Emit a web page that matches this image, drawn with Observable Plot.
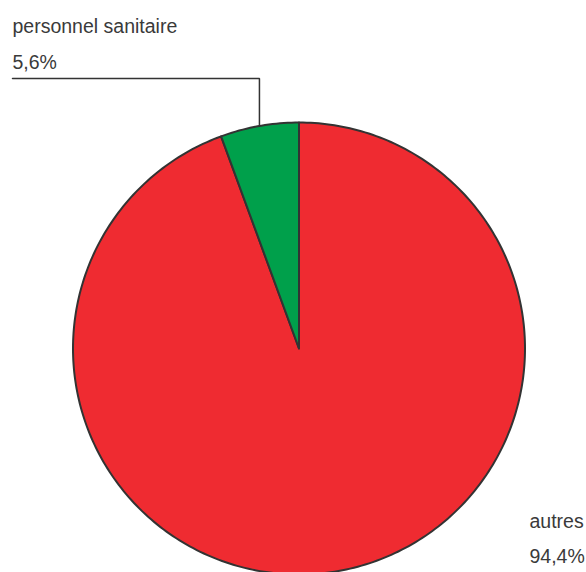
<!DOCTYPE html>
<html>
<head>
<meta charset="utf-8">
<script src="https://cdn.jsdelivr.net/npm/d3@7"></script>
<script src="https://cdn.jsdelivr.net/npm/@observablehq/plot@0.6"></script>
<style>
  html, body { margin: 0; padding: 0; background: #fff; }
  #chart svg { display: block; }
</style>
</head>
<body>
<div id="chart"></div>
<script>
// Shares of the total (percent)
const categories = ["autres", "personnel sanitaire"];
const values = [94.4, 5.6];
const valueLabels = ["94,4%", "5,6%"];
const colors = ["#ef2b31", "#00a04b"];

const W = 586, H = 572;
const R = 226;             // pie radius in pixels
const cx = 298.5, cy = 348; // pie centre in pixels

// Scales expressed in radius units, centre at (0, 0), y pointing up
const xDomain = [-cx / R, (W - cx) / R];
const yDomain = [-(H - cy) / R, cy / R];
const px = (x) => (x - cx) / R;
const py = (y) => (cy - y) / R;

// Slice geometry from d3.pie (0 at 12 o'clock, clockwise)
const arcs = d3.pie().sort(null).value((d) => d.value)(
  categories.map((c, i) => ({category: c, value: values[i], label: valueLabels[i]}))
);

const slicePoints = arcs.flatMap((a) => {
  const n = Math.max(2, Math.ceil((a.endAngle - a.startAngle) / (Math.PI / 180)));
  const pts = [{category: a.data.category, x: 0, y: 0}];
  for (let k = 0; k <= n; ++k) {
    const t = a.startAngle + (a.endAngle - a.startAngle) * (k / n);
    pts.push({category: a.data.category, x: Math.sin(t), y: Math.cos(t)});
  }
  pts.push({category: a.data.category, x: 0, y: 0});
  return pts;
});

// Leader line for the small slice
const small = arcs[1];
const mid = (small.startAngle + small.endAngle) / 2;
const elbowY = py(78);
const labelX = px(12);
const leader = [
  {x: Math.sin(mid), y: Math.cos(mid)},
  {x: Math.sin(mid), y: elbowY},
  {x: labelX, y: elbowY}
];

const labels = [
  {text: categories[1], x: labelX, y: py(32)},
  {text: valueLabels[1], x: labelX, y: py(68)},
  {text: categories[0], x: px(529), y: py(527)},
  {text: valueLabels[0], x: px(529), y: py(562)}
];

const chart = Plot.plot({
  width: W,
  height: H,
  margin: 0,
  style: {fontFamily: "'Liberation Sans', Arial, Helvetica, sans-serif", background: "#fff"},
  x: {domain: xDomain, axis: null},
  y: {domain: yDomain, axis: null},
  color: {domain: categories, range: colors},
  marks: [
    Plot.line(slicePoints, {
      x: "x", y: "y", z: "category", fill: "category",
      stroke: "#333", strokeWidth: 2, strokeLinejoin: "round", curve: "linear"
    }),
    Plot.line(leader, {x: "x", y: "y", stroke: "#333", strokeWidth: 1.5, strokeLinejoin: "miter"}),
    Plot.text(labels, {
      x: "x", y: "y", text: "text", textAnchor: "start", lineAnchor: "bottom",
      fontSize: 19.5, fill: "#3a3a3a"
    })
  ]
});

document.getElementById("chart").appendChild(chart);
</script>
</body>
</html>
